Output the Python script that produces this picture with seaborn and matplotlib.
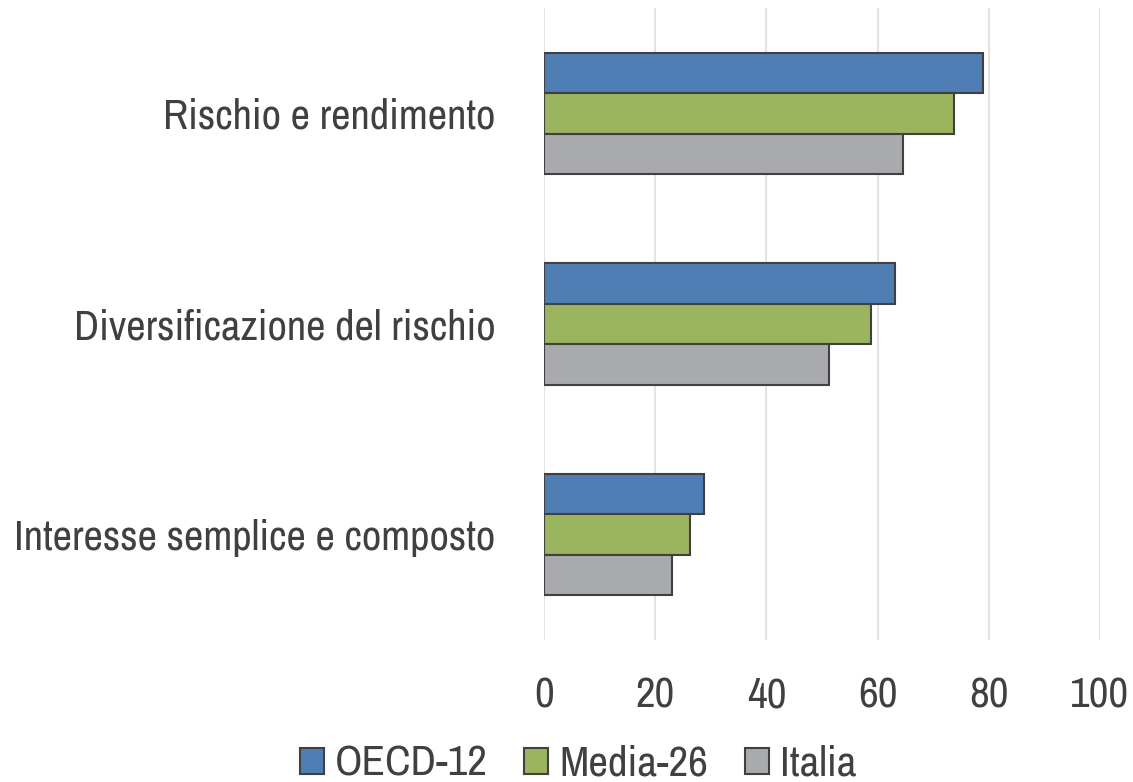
import matplotlib
matplotlib.use("Agg")
import matplotlib.pyplot as plt
import seaborn as sns
import pandas as pd
from matplotlib.patches import Patch

categories = ["Rischio e rendimento", "Diversificazione del rischio", "Interesse semplice e composto"]
series = ["OECD-12", "Media-26", "Italia"]
oecd12 = [79.0, 63.2, 28.7]
media26 = [73.8, 58.8, 26.2]
italia = [64.5, 51.2, 23.0]
colors = ["#4F7EB4", "#9BB55E", "#A9AAAD"]
xticks = [0, 20, 40, 60, 80, 100]

rows = []
for name, vals in zip(series, [oecd12, media26, italia]):
    for c, v in zip(categories, vals):
        rows.append({"cat": c, "serie": name, "val": v})
df = pd.DataFrame(rows)

sns.set_theme(style="white")
plt.rcParams['font.family'] = ['Archivo Narrow', 'PT Sans Narrow', 'Liberation Sans', 'DejaVu Sans']

fig = plt.figure(figsize=(11.33, 7.82), dpi=100)
ax = fig.add_axes([544/1133, 1-640/782, (1100-544)/1133, (640-8)/782])

sns.barplot(data=df, y="cat", x="val", hue="serie", order=categories, hue_order=series,
            palette=colors, width=0.575, orient="h", ax=ax,
            edgecolor="#404040", linewidth=1.5, legend=False, saturation=1)

ax.set_xlim(0, 100)
ax.set_ylim(2.5, -0.5)
ax.set_xticks(xticks)
ax.set_xticklabels([str(t) for t in xticks])
ax.xaxis.grid(True, color="#E3E3E3", linewidth=1.5)
ax.set_axisbelow(True)
for s in ax.spines.values():
    s.set_visible(False)
ax.set_xlabel("")
ax.set_ylabel("")
ax.tick_params(axis="x", length=0, pad=26, labelsize=31, labelcolor="#404040")
ax.tick_params(axis="y", length=0, pad=35, labelsize=30.5, labelcolor="#404040")

handles = [Patch(facecolor=c, edgecolor="#404040", linewidth=1.5, label=s) for c, s in zip(colors, series)]
fig.legend(handles=handles, loc="center", bbox_to_anchor=(578/1133, 1-764/782), ncol=3,
           frameon=False, fontsize=31, handlelength=0.56, handleheight=0.56,
           handletextpad=0.25, columnspacing=0.85, labelcolor="#404040")

fig.savefig("out.png", dpi=100)
